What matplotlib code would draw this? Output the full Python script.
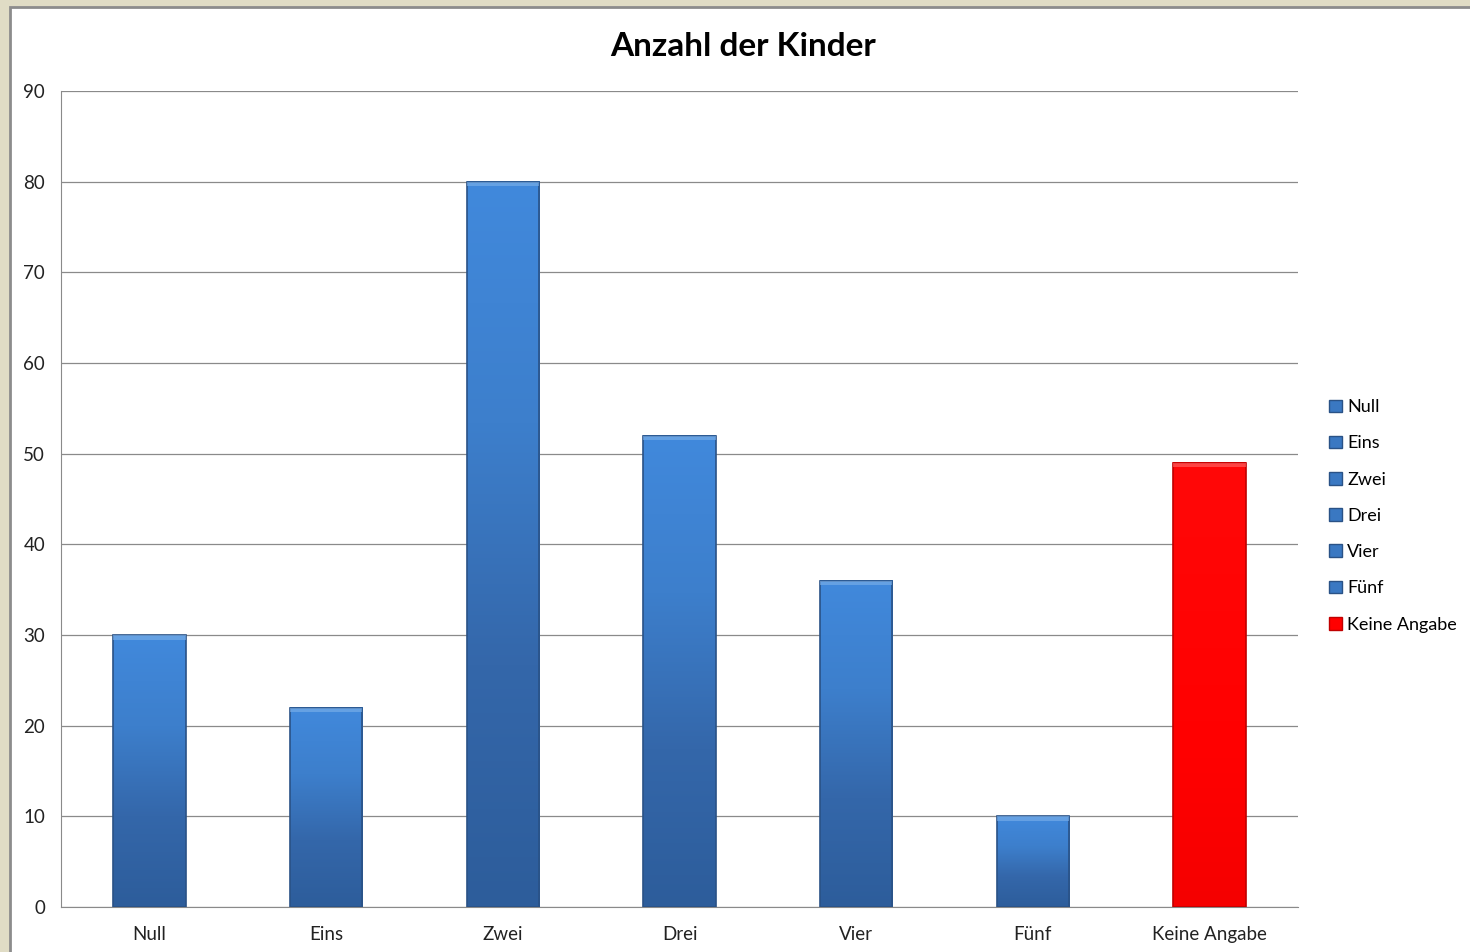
import numpy as np
import matplotlib.pyplot as plt
from matplotlib.patches import Rectangle
from matplotlib.colors import LinearSegmentedColormap

# data
categories = ['Null', 'Eins', 'Zwei', 'Drei', 'Vier', 'Fünf', 'Keine Angabe']
values = [30, 22, 80, 52, 36, 10, 49]
bar_kind = ['blue', 'blue', 'blue', 'blue', 'blue', 'blue', 'red']
y_ticks = [0, 10, 20, 30, 40, 50, 60, 70, 80, 90]

plt.rcParams['font.family'] = ['Lato', 'DejaVu Sans']

W, H = 1470, 952
fig = plt.figure(figsize=(W / 100, H / 100), dpi=100)
fig.patch.set_facecolor('#e0dcc5')

# white chart area with gray frame (runs off right/bottom like the screenshot)
fig.patches.append(Rectangle((10 / W, -0.05), 1.1, (H - 7) / H + 0.05,
                             transform=fig.transFigure, facecolor='white',
                             edgecolor='#8c8c8c', linewidth=2, zorder=-5))

ax = fig.add_axes([61 / W, 1 - 907 / H, (1298 - 61) / W, (907 - 91) / H])
ax.set_zorder(2)
ax.set_facecolor('white')

x = np.arange(len(categories))
bars = ax.bar(x, values, width=0.41, color='none', zorder=3)

blue_cmap = LinearSegmentedColormap.from_list('b', ['#2d5d9b', '#3467aa', '#3d7fcc', '#4189dc'])
red_cmap = LinearSegmentedColormap.from_list('r', ['#f50000', '#ff0000', '#ff0404', '#ff0808'])
grad = np.linspace(0, 1, 256).reshape(-1, 1)

for b, kind in zip(bars, bar_kind):
    x0, w, h = b.get_x(), b.get_width(), b.get_height()
    cmap = blue_cmap if kind == 'blue' else red_cmap
    ax.imshow(grad, cmap=cmap, origin='lower', aspect='auto',
              extent=(x0, x0 + w, 0, h), zorder=3)
    edge = '#2a5286' if kind == 'blue' else '#c00000'
    ax.add_patch(Rectangle((x0, 0), w, h, facecolor='none', edgecolor=edge,
                           linewidth=1.2, zorder=4))
    # light bevel at the top
    top = '#7fb2ea' if kind == 'blue' else '#ff6a6a'
    ax.add_patch(Rectangle((x0, h - 0.5), w, 0.5, facecolor=top, edgecolor='none',
                           alpha=0.6, zorder=4))

ax.set_xlim(-0.5, len(categories) - 0.5)
ax.set_ylim(0, 90)
ax.set_yticks(y_ticks)
ax.set_xticks(x)
ax.set_xticklabels(categories)
ax.tick_params(axis='both', length=0, labelsize=13.5, colors='#222222')
ax.tick_params(axis='y', pad=11.5)
ax.tick_params(axis='x', pad=13.5)

ax.grid(axis='y', color='#8a8a8a', linewidth=0.9, zorder=0)
ax.set_axisbelow(True)
for s in ['top', 'right']:
    ax.spines[s].set_visible(False)
ax.spines['left'].set_color('#8a8a8a')
ax.spines['bottom'].set_color('#8a8a8a')

fig.text(743 / W, 1 - 47 / H, 'Anzahl der Kinder', ha='center', va='center',
         fontsize=24, fontweight='bold', color='black')

# legend
handles = [Rectangle((0, 0), 1, 1, facecolor='#3a78c2' if k == 'blue' else '#ff0000',
                     edgecolor='#2a5286' if k == 'blue' else '#c00000')
           for k in bar_kind]
leg = fig.legend(handles, categories, loc='upper left',
                 bbox_to_anchor=(1322 / W, 1 - 392 / H), frameon=False,
                 fontsize=13, handlelength=0.7, handleheight=0.7,
                 handletextpad=0.3, labelspacing=1.12, borderaxespad=0)

plt.savefig('out.png', dpi=100, facecolor=fig.get_facecolor())
